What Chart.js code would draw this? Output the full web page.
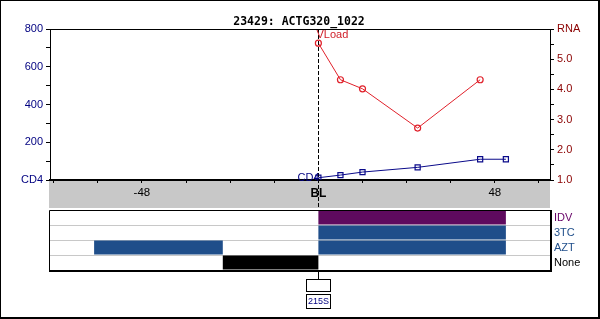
<!DOCTYPE html>
<html>
<head>
<meta charset="utf-8">
<script src="https://cdn.jsdelivr.net/npm/chart.js@4/dist/chart.umd.min.js"></script>
<style>
  html, body { margin: 0; padding: 0; background: #fff; }
  #wrap { position: relative; width: 600px; height: 319px; }
  canvas { position: absolute; left: 0; top: 0; }
  #frame { position: absolute; left: 0; top: 0; width: 600px; height: 319px; box-sizing: border-box;
           border-top: 1px solid #000; border-left: 1px solid #000; border-right: 2px solid #000; border-bottom: 2px solid #000; pointer-events: none; }
</style>
</head>
<body>
<div id="wrap">
  <canvas id="top" width="600" height="319"></canvas>
  <canvas id="bottom" width="600" height="319"></canvas>
  <div id="frame"></div>
</div>
<script>
// ---- data ----
const titleText = "23429: ACTG320_1022";
const cd4Weeks = [0, 6, 12, 27, 44, 51];
const cd4Values = [12, 26, 42, 67, 110, 110];
const rnaWeeks = [0, 6, 12, 27, 44];
const rnaValues = [5.53, 4.32, 4.02, 2.72, 4.32];
const xTickValues = [-72, -60, -48, -36, -24, -12, 0, 12, 24, 36, 48, 60];
const xLabeled = {"-48": "-48", "0": "BL", "48": "48"};
const drugRows = ["IDV", "3TC", "AZT", "None"];
const drugRowColors = ["#660066", "#1f4e8a", "#1f4e8a", "#000000"];
const idvSpans = [[0, 51]];
const tc3Spans = [[0, 51]];
const aztSpans = [[-61, -26], [0, 51]];
const noneSpans = [[-26, 0]];
const mutationLabel = "215S";
const X_MIN = -73, X_MAX = 63;

const FONT = '"Liberation Sans", Arial, sans-serif';

const topPlugin = {
  id: 'topDecor',
  beforeDraw(chart) {
    const {ctx, chartArea} = chart;
    ctx.save();
    ctx.fillStyle = '#c8c8c8';
    ctx.fillRect(chartArea.left - 1, chartArea.bottom, chartArea.right - chartArea.left + 1, 28);
    ctx.restore();
  },
  afterDraw(chart) {
    const {ctx, chartArea, scales} = chart;
    ctx.save();
    ctx.strokeStyle = '#000';
    ctx.lineWidth = 1;
    ctx.beginPath();
    ctx.moveTo(chartArea.left, chartArea.top + 0.5);
    ctx.lineTo(chartArea.right, chartArea.top + 0.5);
    ctx.stroke();
    const x0 = Math.round(scales.x.getPixelForValue(0)) + 0.5;
    ctx.setLineDash([4, 2]);
    ctx.beginPath();
    ctx.moveTo(x0, chartArea.top);
    ctx.lineTo(x0, chartArea.bottom + 28);
    ctx.stroke();
    ctx.setLineDash([]);
    ctx.fillStyle = '#000';
    ctx.font = 'bold 11.5px "DejaVu Sans Mono", monospace';
    ctx.textAlign = 'center';
    ctx.textBaseline = 'alphabetic';
    ctx.fillText(titleText, 299, 25);
    ctx.font = '11px ' + FONT;
    ctx.fillStyle = '#d0202a';
    ctx.textAlign = 'left';
    ctx.textBaseline = 'middle';
    ctx.fillText('VLoad', x0 - 2, chartArea.top + 6);
    ctx.fillStyle = '#000080';
    ctx.textAlign = 'right';
    ctx.fillText('CD4', x0 + 1, chartArea.bottom - 2);
    ctx.restore();
  }
};

new Chart(document.getElementById('top'), {
  type: 'line',
  data: {
    datasets: [
      {
        label: 'VLoad',
        data: rnaWeeks.map((w, i) => ({x: w, y: rnaValues[i]})),
        yAxisID: 'y1',
        borderColor: '#e0202a',
        borderWidth: 1,
        pointStyle: 'circle',
        pointRadius: 3,
        pointBorderWidth: 1.2,
        pointBorderColor: '#e0202a',
        pointBackgroundColor: 'rgba(0,0,0,0)',
        tension: 0
      },
      {
        label: 'CD4',
        data: cd4Weeks.map((w, i) => ({x: w, y: cd4Values[i]})),
        yAxisID: 'y',
        borderColor: '#0a0a8a',
        borderWidth: 1,
        pointStyle: 'rect',
        pointRadius: 3.6,
        pointBorderWidth: 1.2,
        pointBorderColor: '#0a0a8a',
        pointBackgroundColor: 'rgba(0,0,0,0)',
        tension: 0
      }
    ]
  },
  options: {
    responsive: false,
    animation: false,
    events: [],
    layout: { padding: { top: 29, bottom: 111, left: 0, right: 0 } },
    plugins: { legend: { display: false }, title: { display: false }, tooltip: { enabled: false } },
    scales: {
      x: {
        type: 'linear',
        min: X_MIN, max: X_MAX,
        afterBuildTicks: s => { s.ticks = xTickValues.map(v => ({value: v})); },
        afterFit: s => { s.height = 28; },
        border: { color: '#000', width: 2 },
        grid: { drawOnChartArea: false, drawTicks: true, tickLength: 3, color: '#000' },
        ticks: {
          autoSkip: false, maxRotation: 0, padding: 3,
          color: '#000',
          font: ctx => (ctx.tick && ctx.tick.value === 0) ? {family: FONT, size: 12, weight: 'bold'} : {family: FONT, size: 11.5},
          callback: v => xLabeled[String(v)] || ''
        }
      },
      y: {
        type: 'linear', position: 'left',
        min: 0, max: 800,
        afterFit: s => { s.width = 50; },
        border: { color: '#000', width: 1 },
        grid: { drawOnChartArea: false, tickLength: 4, color: '#000' },
        ticks: {
          stepSize: 100, padding: 3, color: '#000080', autoSkip: false,
          font: {family: FONT, size: 11},
          callback: v => v === 0 ? 'CD4' : (v % 200 === 0 ? String(v) : '')
        }
      },
      y1: {
        type: 'linear', position: 'right',
        min: 1, max: 6,
        afterFit: s => { s.width = 50; },
        border: { color: '#000', width: 1 },
        grid: { drawOnChartArea: false, tickLength: 4, color: '#000' },
        ticks: {
          stepSize: 0.5, padding: 3, color: '#8b0000', autoSkip: false,
          font: {family: FONT, size: 11},
          callback: v => v === 6 ? 'RNA' : (Number.isInteger(v) ? v.toFixed(1) : '')
        }
      }
    }
  },
  plugins: [topPlugin]
});

const bottomPlugin = {
  id: 'bottomDecor',
  afterDraw(chart) {
    const {ctx, chartArea, scales} = chart;
    ctx.save();
    ctx.strokeStyle = '#000';
    ctx.lineWidth = 1;
    ctx.beginPath();
    ctx.moveTo(chartArea.left - 0.5, chartArea.bottom);
    ctx.lineTo(chartArea.left - 0.5, chartArea.top + 0.5);
    ctx.lineTo(chartArea.right, chartArea.top + 0.5);
    ctx.stroke();
    ctx.lineWidth = 2;
    ctx.beginPath();
    ctx.moveTo(chartArea.left - 1, chartArea.bottom + 1);
    ctx.lineTo(chartArea.right + 1, chartArea.bottom + 1);
    ctx.lineTo(chartArea.right + 1, chartArea.top);
    ctx.stroke();
    const x0 = Math.round(scales.x.getPixelForValue(0)) + 0.5;
    ctx.lineWidth = 1;
    ctx.beginPath();
    ctx.moveTo(x0, chartArea.bottom + 2);
    ctx.lineTo(x0, chartArea.bottom + 10);
    ctx.stroke();
    ctx.strokeRect(x0 - 12, chartArea.bottom + 9.5, 24, 12);
    ctx.strokeRect(x0 - 12, chartArea.bottom + 24.5, 24, 14);
    ctx.fillStyle = '#000080';
    ctx.font = '9px ' + FONT;
    ctx.textAlign = 'center';
    ctx.textBaseline = 'middle';
    ctx.fillText(mutationLabel, x0, chartArea.bottom + 32);
    ctx.restore();
  }
};

function spans(rows, row) { return rows.map(r => ({x: r, y: row})); }
const barCommon = { grouped: false, categoryPercentage: 1, barPercentage: 0.94, borderWidth: 0 };

new Chart(document.getElementById('bottom'), {
  type: 'bar',
  data: {
    labels: drugRows,
    datasets: [
      Object.assign({label: 'IDV', data: spans(idvSpans, 'IDV'), backgroundColor: '#5e0a5e'}, barCommon),
      Object.assign({label: '3TC', data: spans(tc3Spans, '3TC'), backgroundColor: '#1f4e8a'}, barCommon),
      Object.assign({label: 'AZT', data: spans(aztSpans, 'AZT'), backgroundColor: '#1f4e8a'}, barCommon),
      Object.assign({label: 'None', data: spans(noneSpans, 'None'), backgroundColor: '#000000'}, barCommon)
    ]
  },
  options: {
    indexAxis: 'y',
    responsive: false,
    animation: false,
    events: [],
    layout: { padding: { top: 210, bottom: 49, left: 50, right: 0 } },
    plugins: { legend: { display: false }, title: { display: false }, tooltip: { enabled: false } },
    scales: {
      x: { type: 'linear', min: X_MIN, max: X_MAX, display: false },
      y: {
        type: 'category', position: 'right',
        afterFit: s => { s.width = 50; },
        border: { display: false },
        grid: { drawOnChartArea: true, drawTicks: false, color: '#c8c8c8', offset: true },
        ticks: {
          padding: 4, autoSkip: false,
          color: ctx => drugRowColors[ctx.index],
          font: {family: FONT, size: 11}
        }
      }
    }
  },
  plugins: [bottomPlugin]
});
</script>
</body>
</html>
